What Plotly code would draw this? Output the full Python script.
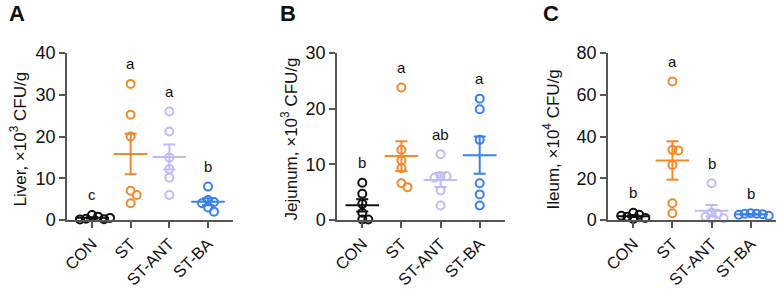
import numpy as np
import plotly.graph_objects as go

categories = ["CON", "ST", "ST-ANT", "ST-BA"]
colors = ["#111111", "#F08A2C", "#BDBDF5", "#3A80F2"]

liver = {
    "CON": [1.2, 0.8, 0.3, 0.2, 0.1, 0.5],
    "ST": [32.6, 25.2, 20.0, 7.0, 6.0, 4.0],
    "ST-ANT": [26.0, 21.2, 15.0, 12.2, 10.1, 6.0],
    "ST-BA": [8.0, 4.8, 4.3, 4.0, 3.0, 2.0],
}
jejunum = {
    "CON": [6.7, 4.7, 2.9, 1.3, 0.1, 0.1],
    "ST": [23.8, 12.6, 10.7, 9.3, 6.6, 5.9],
    "ST-ANT": [11.8, 7.9, 7.9, 7.6, 5.3, 2.6],
    "ST-BA": [21.8, 19.9, 14.4, 6.6, 4.6, 2.6],
}
ileum = {
    "CON": [3.5, 2.5, 1.5, 1.0, 0.5, 2.0],
    "ST": [66.4, 33.6, 33.3, 26.4, 8.0, 3.2],
    "ST-ANT": [17.6, 3.5, 3.0, 1.5, 0.8, 0.5],
    "ST-BA": [3.2, 3.0, 3.0, 2.8, 2.5, 2.0],
}
liver_letters = ["c", "a", "a", "b"]
jejunum_letters = ["b", "a", "ab", "a"]
ileum_letters = ["b", "a", "b", "b"]

panels = [
    dict(data=liver, letters=liver_letters, ymax=40, dtick=10, panel="A",
         title="Liver, ×10<sup>3</sup> CFU/g", xd=(67, 233), tx=18, lx=17),
    dict(data=jejunum, letters=jejunum_letters, ymax=30, dtick=10, panel="B",
         title="Jejunum, ×10<sup>3</sup> CFU/g", xd=(337, 505), tx=289, lx=288),
    dict(data=ileum, letters=ileum_letters, ymax=80, dtick=20, panel="C",
         title="Ileum, ×10<sup>4</sup> CFU/g", xd=(608, 776), tx=551, lx=551),
]

W, H = 777, 289
Y_TOP, Y_BOT = 53, 220
XR = [-0.646, 3.646]
FONT = "Liberation Sans, Arial, sans-serif"


def swarm(vals, ppu_y, ppu_x, d=6.0):
    placed = []
    offs = []
    step = d * 0.5
    cands = [0.0]
    for k in range(1, 10):
        cands += [k * step, -k * step]
    for v in vals:
        y = v * ppu_y
        chosen = cands[-1]
        for c in cands:
            if all((c - px) ** 2 + (y - py) ** 2 >= d * d for px, py in placed):
                chosen = c
                break
        placed.append((chosen, y))
        offs.append(chosen / ppu_x)
    return offs


fig = go.Figure()
annotations = []
layout_axes = {}

for pi, p in enumerate(panels):
    sfx = "" if pi == 0 else str(pi + 1)
    xa, ya = "x" + sfx, "y" + sfx
    x0, x1 = p["xd"]
    ppu_y = (Y_BOT - Y_TOP) / p["ymax"]
    ppu_x = (x1 - x0) / (XR[1] - XR[0])
    for ci, cat in enumerate(categories):
        vals = np.array(p["data"][cat], dtype=float)
        offs = swarm(vals, ppu_y, ppu_x)
        fig.add_trace(go.Scatter(
            x=[ci + o for o in offs], y=vals, mode="markers",
            marker=dict(symbol="circle-open", size=8, color=colors[ci],
                        line=dict(width=2, color=colors[ci])),
            xaxis=xa, yaxis=ya, showlegend=False, cliponaxis=False, hoverinfo="y"))
        mean = vals.mean()
        sem = vals.std(ddof=1) / np.sqrt(len(vals))
        fig.add_trace(go.Scatter(
            x=[ci], y=[mean], mode="markers",
            marker=dict(symbol="line-ew-open", size=24, color=colors[ci],
                        line=dict(width=2, color=colors[ci])),
            error_y=dict(type="data", array=[sem], visible=True, color=colors[ci],
                         thickness=2, width=6),
            xaxis=xa, yaxis=ya, showlegend=False, cliponaxis=False, hoverinfo="y"))
        annotations.append(dict(
            x=ci, y=vals.max(), xref=xa, yref=ya, text=p["letters"][ci],
            showarrow=False, yshift=20, xanchor="center", yanchor="middle",
            font=dict(size=15, color="#111", family=FONT)))
    layout_axes["xaxis" + sfx] = dict(
        domain=[x0 / W, x1 / W], range=XR, anchor=ya, automargin=False,
        tickmode="array", tickvals=list(range(4)), ticktext=categories,
        tickangle=-45, showline=True, linecolor="#555", linewidth=1.5,
        ticks="outside", ticklen=6, tickwidth=1.5, tickcolor="#555",
        showgrid=False, zeroline=False,
        tickfont=dict(size=16.5, color="#111", family=FONT))
    layout_axes["yaxis" + sfx] = dict(
        domain=[1 - Y_BOT / H, 1 - Y_TOP / H], range=[0, p["ymax"]], anchor=xa,
        automargin=False,
        tickmode="linear", tick0=0, dtick=p["dtick"],
        showline=True, linecolor="#555", linewidth=1.5,
        ticks="outside", ticklen=6, tickwidth=1.5, tickcolor="#555",
        showgrid=False, zeroline=False,
        tickfont=dict(size=18, color="#111", family=FONT))
    annotations.append(dict(
        x=p["tx"] / W, y=1 - ((Y_TOP + Y_BOT) / 2 + 3) / H, xref="paper", yref="paper",
        text=p["title"], textangle=-90, showarrow=False,
        xanchor="center", yanchor="middle",
        font=dict(size=17, color="#111", family=FONT)))
    annotations.append(dict(
        x=p["lx"] / W, y=1 - 14 / H, xref="paper", yref="paper",
        text="<b>" + p["panel"] + "</b>", showarrow=False,
        xanchor="center", yanchor="middle",
        font=dict(size=22, color="#111", family=FONT)))

fig.update_layout(
    width=W, height=H, margin=dict(l=0, r=0, t=0, b=0, autoexpand=False),
    paper_bgcolor="white", plot_bgcolor="white",
    annotations=annotations, **layout_axes)

fig.write_html("out.html", config={"displayModeBar": False},
               post_script="document.body.style.margin='0';document.body.style.overflow='hidden';")
